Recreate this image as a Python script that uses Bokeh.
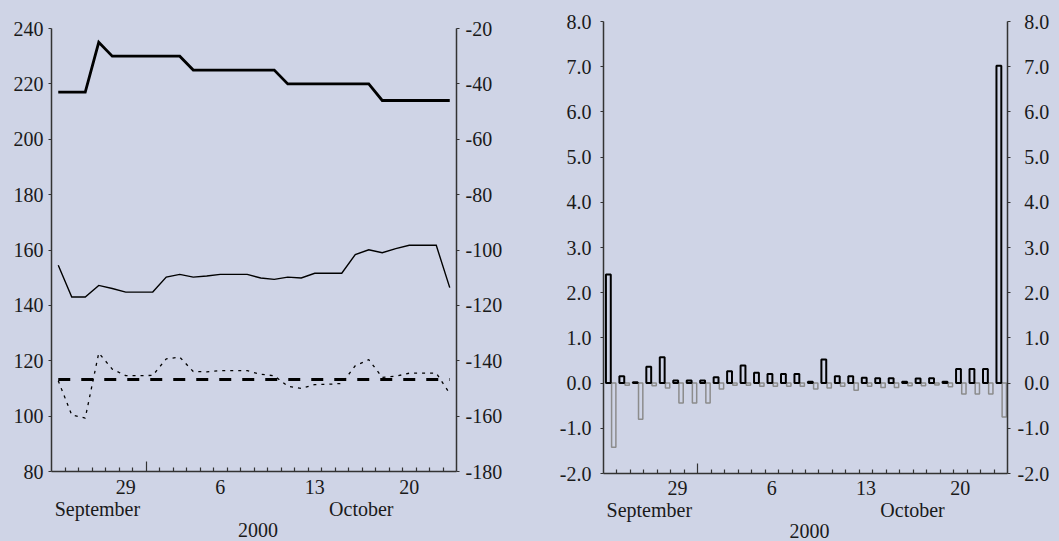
from bokeh.plotting import figure
from bokeh.models import LinearAxis, Range1d, FixedTicker, PrintfTickFormatter, ColumnDataSource
from bokeh.transform import dodge
from bokeh.embed import file_html
from bokeh.resources import INLINE

# ---------------- data ----------------
days = [24, 25, 26, 27, 28, 29, 30, 1, 2, 3, 4, 5, 6, 7, 8, 9, 10, 11, 12, 13,
        14, 15, 16, 17, 18, 19, 20, 21, 22, 23]
labelled_days = [29, 6, 13, 20]
month_names = ["September", "October"]
year_label = "2000"

# left panel (left axis scale 80-240, right axis -180..-20)
rate_thick = [217, 217, 217, 235, 230, 230, 230, 230, 230, 230, 225, 225, 225, 225, 225,
              225, 225, 220, 220, 220, 220, 220, 220, 220, 214, 214, 214, 214, 214, 214]
series_thin = [154.5, 143.0, 143.0, 147.2, 146.1, 144.8, 144.8, 144.8, 150.2, 151.2,
               150.2, 150.6, 151.2, 151.2, 151.2, 149.9, 149.4, 150.2, 149.9, 151.6,
               151.6, 151.6, 158.3, 160.1, 159.0, 160.5, 161.7, 161.7, 161.7, 146.4]
series_dotted = [112.8, 100.4, 99.3, 122.8, 117.0, 114.6, 114.6, 114.7, 120.7, 121.3,
                 116.1, 116.0, 116.4, 116.4, 116.4, 115.1, 114.6, 110.8, 110.0, 111.4,
                 111.5, 111.8, 118.2, 120.4, 114.0, 114.4, 115.5, 115.5, 115.5, 108.2]
series_dashed = [113.2, 113.2, 113.2, 113.2, 113.2, 113.2, 113.2, 113.2, 113.2, 113.2,
                 113.2, 113.2, 113.2, 113.2, 113.2, 113.2, 113.2, 113.2, 113.2, 113.2,
                 113.2, 113.2, 113.2, 113.2, 113.2, 113.2, 113.2, 113.2, 113.2, 113.2]
left_ticks = [80, 100, 120, 140, 160, 180, 200, 220, 240]
right_ticks = [-180, -160, -140, -120, -100, -80, -60, -40, -20]

# right panel bars
bars_pos = [2.40, 0.15, 0.02, 0.36, 0.57, 0.06, 0.06, 0.06, 0.13, 0.26,
            0.39, 0.23, 0.20, 0.20, 0.20, 0.03, 0.52, 0.15, 0.15, 0.12,
            0.11, 0.11, 0.03, 0.10, 0.11, 0.03, 0.31, 0.31, 0.31, 7.02]
bars_neg = [-1.42, -0.05, -0.80, -0.06, -0.11, -0.44, -0.44, -0.44, -0.13, -0.05,
            -0.05, -0.07, -0.07, -0.07, -0.07, -0.13, -0.11, -0.07, -0.16, -0.07,
            -0.10, -0.10, -0.06, -0.06, -0.04, -0.08, -0.24, -0.24, -0.24, -0.75]
bar_ticks = [-2, -1, 0, 1, 2, 3, 4, 5, 6, 7, 8]

# ---------------- style ----------------
BG = "#CFD4E6"
FONT = "Liberation Serif"
FS = "20px"
TXT = "#1a1a1a"
AXC = "#333333"
MONTH_X = [2.9, 22.45]
YEAR_X = 14.8

n = len(days)
x_idx = list(range(n))


def style_axis(ax):
    ax.axis_line_color = AXC
    ax.axis_line_width = 1.5
    ax.major_tick_line_color = AXC
    ax.minor_tick_line_color = AXC
    ax.major_tick_line_width = 1.2
    ax.minor_tick_line_width = 1.2
    ax.major_label_text_font = FONT
    ax.major_label_text_font_size = FS
    ax.major_label_text_color = TXT


def bare_axis(ticks, labels, standoff):
    ax = LinearAxis(ticker=FixedTicker(ticks=ticks),
                    major_label_overrides=dict(zip(ticks, labels)))
    ax.axis_line_color = None
    ax.major_tick_line_color = None
    ax.minor_tick_line_color = None
    ax.major_tick_in = 0
    ax.major_tick_out = 0
    ax.minor_tick_in = 0
    ax.minor_tick_out = 0
    ax.major_label_standoff = standoff
    ax.major_label_text_font = FONT
    ax.major_label_text_font_size = FS
    ax.major_label_text_color = TXT
    return ax


def setup_x(p, s_day, s_mon, s_year):
    brk = next(i for i in range(1, n) if days[i] < days[i - 1])
    bounds = [i - 0.5 for i in range(1, n)]
    ax0 = p.xaxis[0]
    style_axis(ax0)
    ax0.ticker = FixedTicker(ticks=[brk - 0.5],
                             minor_ticks=[b for b in bounds if b != brk - 0.5])
    ax0.major_tick_in = 10
    ax0.major_tick_out = 0
    ax0.minor_tick_in = 4
    ax0.minor_tick_out = 0
    ax0.major_label_overrides = {brk - 0.5: ""}
    ax0.major_label_text_font_size = "1px"
    ax0.major_label_standoff = 0
    day_pos = [i for i, d in enumerate(days) if d in labelled_days]
    p.add_layout(bare_axis(day_pos, [str(days[i]) for i in day_pos], s_day), "below")
    p.add_layout(bare_axis(MONTH_X, month_names, s_mon), "below")
    p.add_layout(bare_axis([YEAR_X], [year_label], s_year), "below")


def base_fig(fw, fh, left, right, top, yr):
    p = figure(frame_width=fw, frame_height=fh,
               min_border_left=left, min_border_right=right,
               min_border_top=top, min_border_bottom=0,
               x_range=Range1d(-0.5, n - 0.5), y_range=yr,
               output_backend="svg", toolbar_location=None,
               background_fill_color=BG, border_fill_color=BG,
               outline_line_color=None)
    p.xgrid.visible = False
    p.ygrid.visible = False
    return p


# ---------------- left chart ----------------
p1 = base_fig(405, 443, 51, 73, 28, Range1d(80, 240))
p1.extra_y_ranges = {"right": Range1d(-180, -20)}
src1 = ColumnDataSource(dict(x=x_idx, a=rate_thick, b=series_thin,
                             c=series_dotted, d=series_dashed))
p1.line("x", "d", source=src1, line_color="black", line_width=3, line_dash="12 11")
p1.line("x", "c", source=src1, line_color="black", line_width=1.3, line_dash="3 5")
p1.line("x", "b", source=src1, line_color="black", line_width=1.4, line_join="miter")
p1.line("x", "a", source=src1, line_color="black", line_width=2.8, line_join="miter")

yl = p1.yaxis[0]
style_axis(yl)
yl.ticker = FixedTicker(ticks=left_ticks)
yl.formatter = PrintfTickFormatter(format="%d")
yl.major_tick_in = 0
yl.major_tick_out = 3
yl.major_label_standoff = 5

yr = LinearAxis(y_range_name="right", ticker=FixedTicker(ticks=right_ticks),
                formatter=PrintfTickFormatter(format="%d"))
style_axis(yr)
yr.major_tick_in = 0
yr.major_tick_out = 3
yr.major_label_standoff = 6
p1.add_layout(yr, "right")
setup_x(p1, 8, 1, 0)

# ---------------- right chart ----------------
p2 = base_fig(404, 452, 74, 52, 21, Range1d(-2, 8))
src2 = ColumnDataSource(dict(x=x_idx, pos=bars_pos, neg=bars_neg))
p2.vbar(x=dodge("x", 0.26, range=p2.x_range), width=0.32, top="neg", bottom=0,
        source=src2, fill_color=None, line_color="#8c8c8c", line_width=1.5)
p2.vbar(x=dodge("x", -0.14, range=p2.x_range), width=0.36, top="pos", bottom=0,
        source=src2, fill_color=None, line_color="black", line_width=2)

yl2 = p2.yaxis[0]
style_axis(yl2)
yl2.ticker = FixedTicker(ticks=bar_ticks)
yl2.formatter = PrintfTickFormatter(format="%.1f")
yl2.major_tick_in = 0
yl2.major_tick_out = 3
yl2.major_label_standoff = 9

yr2 = LinearAxis(ticker=FixedTicker(ticks=bar_ticks),
                 major_label_overrides={v: ("" if v < 0 else "\u2004") + "%.1f" % v
                                        for v in bar_ticks})
style_axis(yr2)
yr2.major_tick_in = 0
yr2.major_tick_out = 3
yr2.major_label_standoff = 7
p2.add_layout(yr2, "right")
setup_x(p2, 7, 1, 0)

tmpl = ("{% block preamble %}<style>html,body{margin:0 !important;padding:0;"
        "background:" + BG + ";overflow:hidden;}"
        "body{display:flex !important;flex-direction:row;align-items:flex-start;}"
        "</style>{% endblock %}")
open("out.html", "w").write(file_html([p1, p2], INLINE, template=tmpl))
